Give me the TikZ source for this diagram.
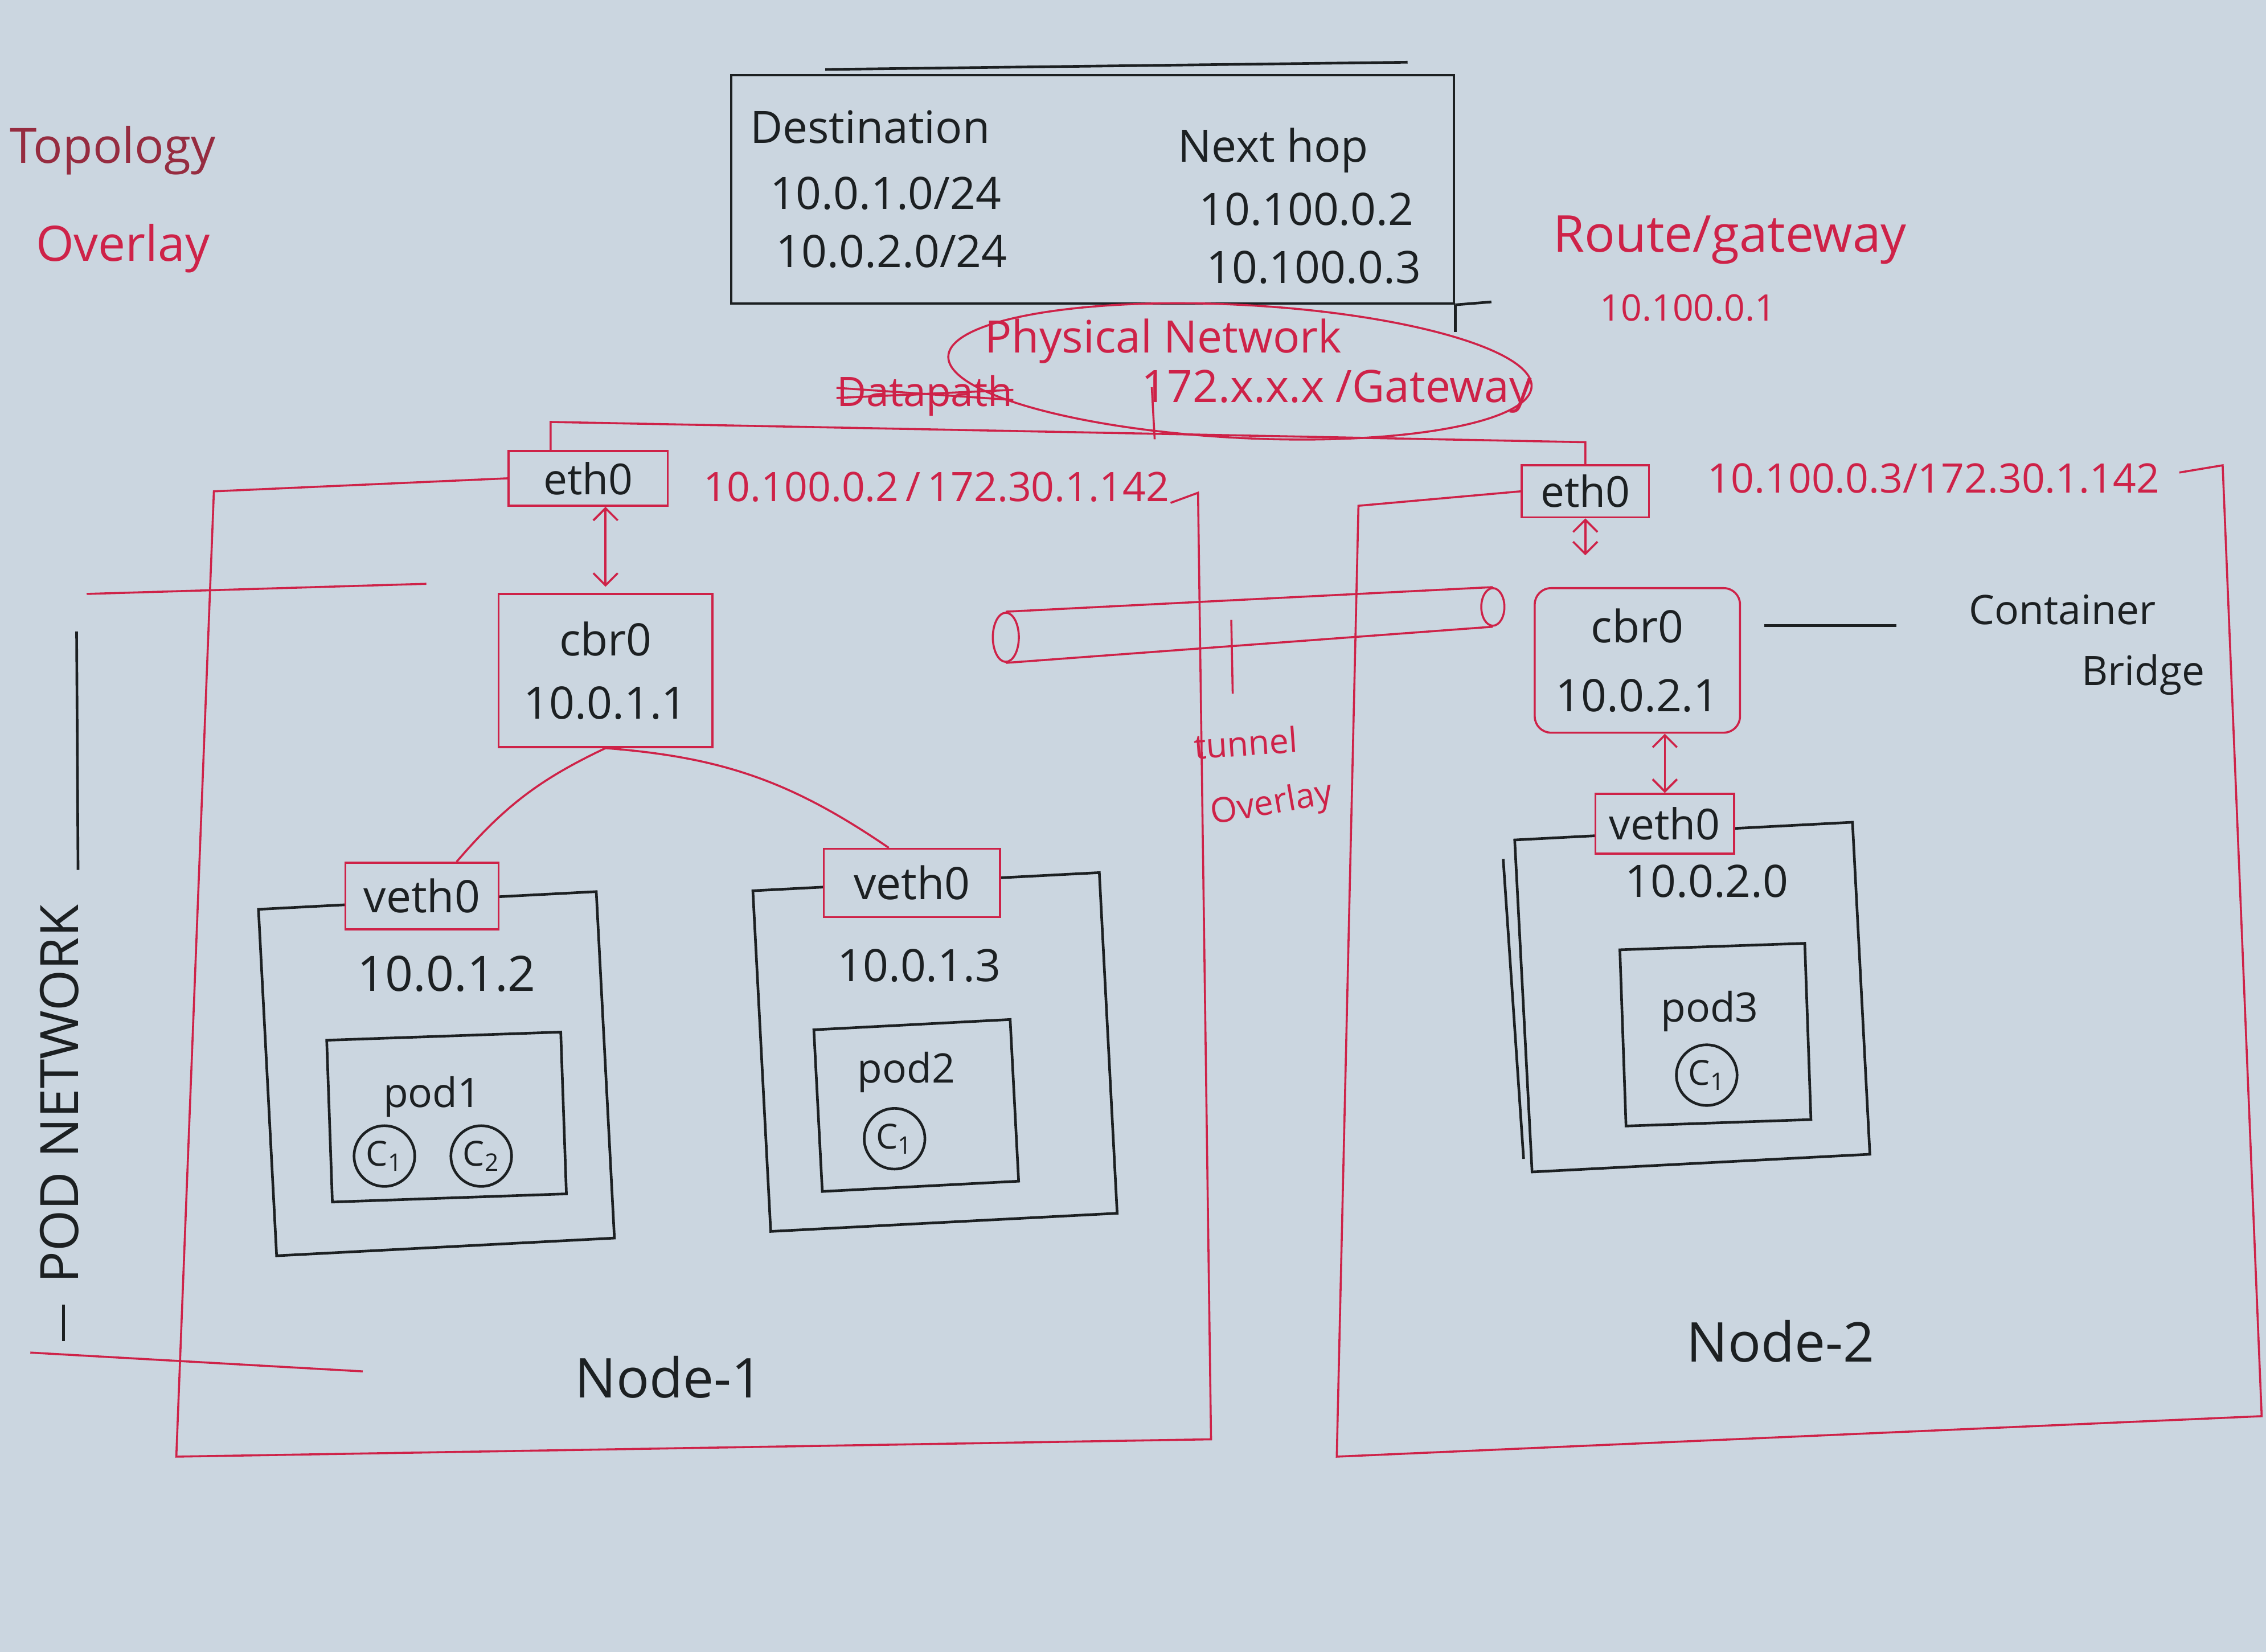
\documentclass[tikz,border=0pt]{standalone}
\usepackage{fontspec}
\setmainfont{Open Sans}
\usetikzlibrary{arrows.meta,shapes.geometric}
\definecolor{board}{RGB}{203,214,224}
\definecolor{inkred}{RGB}{206,34,72}
\definecolor{inkdark}{RGB}{150,44,64}
\definecolor{inkblack}{RGB}{28,32,34}
\begin{document}
\begin{tikzpicture}[x=0.025cm, y=-0.025cm,
  pen/.style={draw=inkred, line width=1pt},
  ink/.style={draw=inkblack, line width=1.3pt},
  redbox/.style={pen, rectangle, inner sep=0pt},
  blackbox/.style={ink, rectangle, inner sep=0pt},
  txt/.style={text=inkblack, inner sep=0pt, font=\fontsize{#1}{#1}\selectfont},
  txt/.default=22,
  rtxt/.style={txt=#1, text=inkred},
  rtxt/.default=22,
  arr/.style={pen, {Straight Barb[length=6pt]}-{Straight Barb[length=6pt]}}]
\useasboundingbox (0,0) rectangle (1568,1143);
\fill[board] (0,0) rectangle (1568,1143);

\node[txt=24, text=inkdark] (topo) at (78,104) {Topology};
\node[rtxt=24] (over) at (85,172) {Overlay};

\node[blackbox, minimum width=12.5cm, minimum height=3.95cm] (routes) at (756,131) {};
\draw[ink] ([shift={(66,-3)}]routes.north west) -- ++(403,-5);
\draw[ink] (routes.south east) -- ++(0,19);
\draw[ink] (routes.south east) -- ++(25,-2);
\node[txt] (dest) at (602,88) {Destination};
\node[txt] (nexthop) at (881,104) {Next hop};
\node[txt] (dstA) at (613,134) {10.0.1.0/24};
\node[txt] (hopA) at (904,145) {10.100.0.2};
\node[txt] (dstB) at (617,174) {10.0.2.0/24};
\node[txt] (hopB) at (909,185) {10.100.0.3};

\node[rtxt=25] (route) at (1197,166) {Route/gateway};
\node[rtxt=18] (gwip) at (1168,213) {10.100.0.1};

\node[pen, ellipse, minimum width=10.1cm, minimum height=2.3cm, rotate=-3] (phys) at (858,257) {};
\node[rtxt] (physlbl) at (805,236) {Physical Network};
\node[rtxt] (physip) at (925,271) {172.x.x.x /Gateway};
\node[rtxt=20] (oldlbl) at (640,274) {Datapath};
\draw[pen] ([yshift=-1pt]oldlbl.west) -- ([yshift=3pt]oldlbl.east);
\draw[pen] ([yshift=4pt]oldlbl.west) -- ([yshift=-2pt]oldlbl.east);

\draw[pen] (60,411) -- (295,404);
\draw[pen] (21,936) -- (251,949);
\node[txt=26, rotate=90] (podnet) at (41,757) {POD NETWORK};
\draw[ink] (44,903) -- (44,928);
\draw[ink] (53,437) -- (54,602);

\node[redbox, txt=21, minimum width=2.75cm, minimum height=0.95cm] (eth0A) at (407,331) {eth0};
\node[rtxt=20] (ipA) at (648,337) {10.100.0.2\,/\,172.30.1.142};
\draw[pen] (eth0A.west) -- (148,340) -- (122,1008) -- (838,996) -- (829,341) -- (810,348);
\node[redbox, minimum width=3.7cm, minimum height=2.65cm, align=center, text=inkblack, font=\fontsize{22}{31}\selectfont] (cbrA) at (419,464) {cbr0\\10.0.1.1};
\draw[arr, shorten >=3pt] (cbrA.north |- eth0A.south) -- (cbrA.north);

\node[blackbox, minimum width=5.85cm, minimum height=6cm, rotate=3] (podA) at (302,743) {};
\node[blackbox, minimum width=6cm, minimum height=5.9cm, rotate=3] (podB) at (647,728) {};
\node[redbox, fill=board, txt, minimum width=2.65cm, minimum height=1.15cm] (vethA) at (292,620) {veth0};
\node[redbox, fill=board, txt, minimum width=3.05cm, minimum height=1.18cm] (vethB) at (631,611) {veth0};
\draw[pen] (cbrA.south) to[bend right=12] ([xshift=0.6cm]vethA.north);
\draw[pen] (cbrA.south) to[bend left=15] ([xshift=-0.4cm]vethB.north);
\node[txt=24] (ipPodA) at (309,674) {10.0.1.2};
\node[txt] (ipPodB) at (636,668) {10.0.1.3};
\node[blackbox, minimum width=4.05cm, minimum height=2.8cm, rotate=2] (pod1) at (309,773) {};
\node[blackbox, minimum width=3.4cm, minimum height=2.8cm, rotate=3] (pod2) at (634,765) {};
\node[txt=20] (pod1lbl) at (299,759) {pod1};
\node[txt=20] (pod2lbl) at (627,742) {pod2};
\node[ink, circle, txt=17, minimum size=1.05cm] (c11) at (266,800) {C\textsubscript{1}};
\node[ink, circle, txt=17, minimum size=1.05cm] (c12) at (333,800) {C\textsubscript{2}};
\node[ink, circle, txt=17, minimum size=1.05cm] (c21) at (619,788) {C\textsubscript{1}};
\node[txt=27] (node1lbl) at (463,953) {Node-1};

\node[pen, ellipse, minimum width=0.45cm, minimum height=0.85cm, inner sep=0pt] (tunA) at (696,441) {};
\node[pen, ellipse, minimum width=0.4cm, minimum height=0.65cm, inner sep=0pt] (tunB) at (1033,420) {};
\draw[pen] (tunA.north) -- (tunB.north);
\draw[pen] (tunA.south) -- (tunB.south);
\draw[pen] (852,429) -- (853,480);
\node[rtxt=17, rotate=4] (tunlbl) at (862,514) {tunnel};
\node[rtxt=17, rotate=10] (ovlbl) at (880,557) {Overlay};

\node[redbox, txt=21, minimum width=2.2cm, minimum height=0.9cm] (eth0B) at (1097,340) {eth0};
\node[rtxt=20] (ipB) at (1338,331) {10.100.0.3/172.30.1.142};
\draw[pen] (eth0B.west) -- (940,350) -- (925,1008) -- (1565,980) -- (1538,322) -- (1508,327);
\coordinate (tapA) at (381,292);
\coordinate (tapB) at (1097,306);
\draw[pen] (eth0A.north -| tapA) -- (tapA) -- (tapB) -- (eth0B.north);
\coordinate (tapP) at (799,304);
\coordinate (tapQ) at (797,268);
\draw[pen] (tapQ) -- (tapP);

\node[redbox, rounded corners=8pt, minimum width=3.55cm, minimum height=2.5cm, align=center, text=inkblack, font=\fontsize{22}{34}\selectfont] (cbrB) at (1133,457) {cbr0\\10.0.2.1};
\draw[arr, shorten >=0.55cm] (eth0B.south) -- (eth0B.south |- cbrB.north);
\node[txt=20] (contA) at (1427,422) {Container};
\node[txt=20] (contB) at (1483,467) {Bridge};
\coordinate (brTick) at (1221,433);
\draw[ink, shorten >=1.25cm] (brTick) -- (brTick -| contA.west);

\node[blackbox, minimum width=5.85cm, minimum height=5.75cm, rotate=3] (podC) at (1171,690) {};
\draw[ink] ([shift={(-7,14)}]podC.north west) -- ([shift={(-5,-10)}]podC.south west);
\node[redbox, fill=board, txt=21, minimum width=2.4cm, minimum height=1.03cm] (vethC) at (1152,570) {veth0};
\draw[arr] (vethC.north |- cbrB.south) -- (vethC.north);
\node[txt] (ipPodC) at (1181,610) {10.0.2.0};
\node[blackbox, minimum width=3.2cm, minimum height=3.05cm, rotate=2] (pod3) at (1187,716) {};
\node[txt=20] (pod3lbl) at (1183,700) {pod3};
\node[ink, circle, txt=17, minimum size=1.05cm] (c31) at (1181,744) {C\textsubscript{1}};
\node[txt=27] (node2lbl) at (1232,928) {Node-2};
\end{tikzpicture}
\end{document}
